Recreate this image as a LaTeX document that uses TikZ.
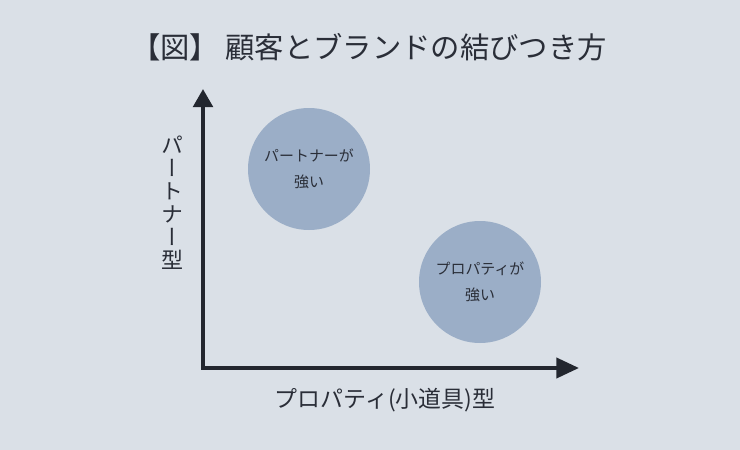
\documentclass[tikz,border=0pt]{standalone}
\usepackage{fontspec}
\setmainfont{Noto Sans CJK JP}
\newfontfamily\cjkv[RawFeature=+vert]{Noto Sans CJK JP}
\usetikzlibrary{arrows.meta}
\definecolor{bg}{RGB}{218,224,231}
\definecolor{blob}{RGB}{155,174,199}
\definecolor{ink}{RGB}{42,46,56}
\definecolor{axis}{RGB}{35,39,47}
\tikzset{
  blobnode/.style={circle, fill=blob, minimum size=91.5pt, inner sep=0pt, align=center, text=ink,
    font=\fontsize{11.2}{19}\selectfont},
  axisline/.style={draw=axis, line width=3pt, line join=miter},
  label/.style={text=ink, font=\fontsize{17.2}{17.2}\selectfont, inner sep=0pt},
}
\begin{document}
\begin{tikzpicture}[x=0.75pt,y=-0.75pt]
\fill[bg] (0,0) rectangle (740,450);
\useasboundingbox (0,0) rectangle (740,450);
\node[text=ink, font=\fontsize{22}{22}\selectfont, inner sep=0pt] (title) at (369,47) {【図】 顧客とブランドの結びつき方};
\coordinate (origin) at (203,368);
\coordinate (ytop) at (203,89);
\coordinate (xend) at (579,368);
\draw[axisline, {Triangle[length=13.5pt,width=14.5pt]}-{Triangle[length=17pt,width=15pt]}] (ytop) -- (origin) -- (xend);
\node[blobnode] (partner) at (309,169) {パートナーが\\強い};
\node[blobnode] (prop) at (480,282) {プロパティが\\強い};
\node[label, font=\cjkv\fontsize{16.5}{17.2}\selectfont, align=center] (ylab) at (172,203) {パ\\ー\\ト\\ナ\\ー\\型};
\node[label] (xlab) at (385,400) {プロパティ(小道具)型};
\end{tikzpicture}
\end{document}
